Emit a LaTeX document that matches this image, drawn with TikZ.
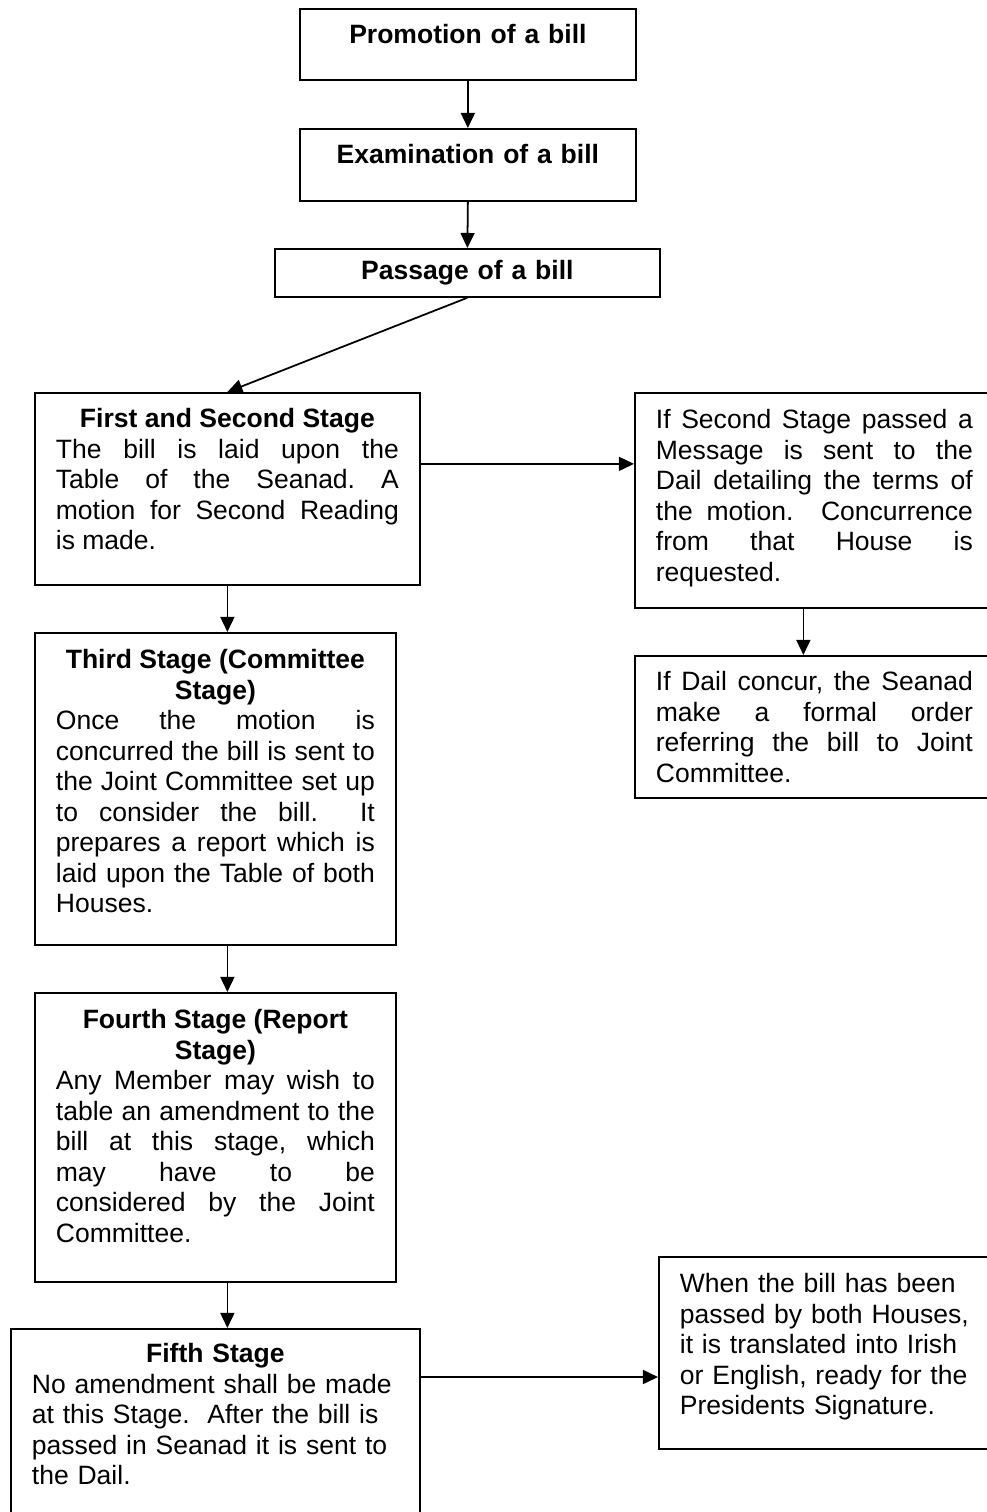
\documentclass[tikz,border=0pt]{standalone}
\usepackage{fontspec}
\setmainfont{Liberation Sans}
\usetikzlibrary{arrows.meta}
\newdimen\pxu \pxu=0.4524pt
\hyphenpenalty=10000
\exhyphenpenalty=10000
\tolerance=10000
\hbadness=10000
\frenchspacing

\begin{document}
\begin{tikzpicture}[
  x=0.4524pt,y=-0.4524pt,
  box/.style={draw,line width=0.8pt,anchor=north west,inner xsep=21\pxu,inner ysep=0pt,font=\fontsize{12}{13.8}\selectfont,align=justify},
  title/.style={box,text width=294\pxu,align=center,font=\fontsize{12}{13.8}\selectfont\bfseries},
  arr/.style={line width=0.8pt,-{Triangle[length=6.8pt,width=6.3pt]}}
  ]
  \useasboundingbox (0,0) rectangle (987,1512);
  % 
  % Title boxes
  % 
  \node(promo)[title,text height=35\pxu,text depth=36\pxu]at (299,8){Promotion of a bill};
  \node(exam) [title,text height=35\pxu,text depth=37\pxu]at (299,128){Examination of a bill};
  \node(pass) [title,text width=343\pxu,text height=31\pxu,text depth=17\pxu]at (274,248){Passage of a bill};
  % 
  % Stages
  % 
  \node(first) [box,text width=343\pxu,text height=35\pxu,text depth=157\pxu]at (34,392){{\centering\bfseries First and Second Stage\par}The bill is laid upon the\linebreak Table of the Seanad. A\linebreak motion for Second Reading\linebreak is made.};
  \node(third) [box,text width=319\pxu,text height=36\pxu,text depth=276\pxu]at (34,632){{\centering\bfseries Third Stage (Committee\\ Stage)\par}Once the motion is\linebreak concurred the bill is sent to\linebreak the Joint Committee set up\linebreak to consider the bill.\ \ It\linebreak prepares a report which is\linebreak laid upon the Table of both\linebreak Houses.};
  \node(fourth)[box,text width=319\pxu,text height=36\pxu,text depth=253\pxu]at (34,992){{\centering\bfseries Fourth Stage (Report\\ Stage)\par}Any Member may wish to\linebreak table an amendment to the\linebreak bill at this stage, which\linebreak may have to be\linebreak considered by the Joint\linebreak Committee.};
  \node(fifth) [box,align=left,text width=367\pxu,text height=34\pxu,text depth=200\pxu]at (10,1328){{\centering\bfseries Fifth Stage\par}No amendment shall be made\\ at this Stage.\ \ After the bill is\\ passed in Seanad it is sent to\\ the Dail.};
  % 
  % Side notes
  % 
  \node(msg)   [box,text width=317\pxu,text height=36\pxu,text depth=179\pxu]at (634,392){If Second Stage passed a\linebreak Message is sent to the\linebreak Dail detailing the terms of\linebreak the motion.\ \ Concurrence\linebreak from that House is\linebreak requested.};
  \node(concur)[box,text width=317\pxu,text height=35\pxu,text depth=107\pxu]at (634,655){If Dail concur, the Seanad\linebreak make a formal order\linebreak referring the bill to Joint\linebreak Committee.};
  \node(sign)  [box,align=left,text width=300\pxu,text height=36\pxu,text depth=156\pxu]at (658,1256){When the bill has been\\ passed by both Houses,\\ it is translated into Irish\\ or English, ready for the\\ Presidents Signature.};
  % 
  % Arrows
  % 
  \coordinate (firstout) at ([yshift=25\pxu]first.east);
  \coordinate (msgout) at ([xshift=-11\pxu]msg.south);
  \coordinate (fifthout) at ([yshift=-49\pxu]fifth.north east);
  % promo -> exam
  \draw[arr] (promo.south) -- (exam.north);
  % exam -> pass
  \draw[arr] (exam.south) -- (pass.north);
  % pass -> first
  \draw[arr] (pass.south) -- (first.north);
  % first -> msg
  \draw[arr] (firstout) -- (firstout -| msg.west);
  % msg -> concur
  \draw[arr] (msgout) -- (msgout |- concur.north);
  % first -> third
  \draw[arr] (first.south) -- (first.south |- third.north);
  % third -> fourth
  \draw[arr] (first.south |- third.south) -- (first.south |- fourth.north);
  % fourth -> fifth
  \draw[arr] (first.south |- fourth.south) -- (first.south |- fifth.north);
  % fifth -> sign
  \draw[arr] (fifthout) -- (fifthout -| sign.west);
\end{tikzpicture}
\end{document}
